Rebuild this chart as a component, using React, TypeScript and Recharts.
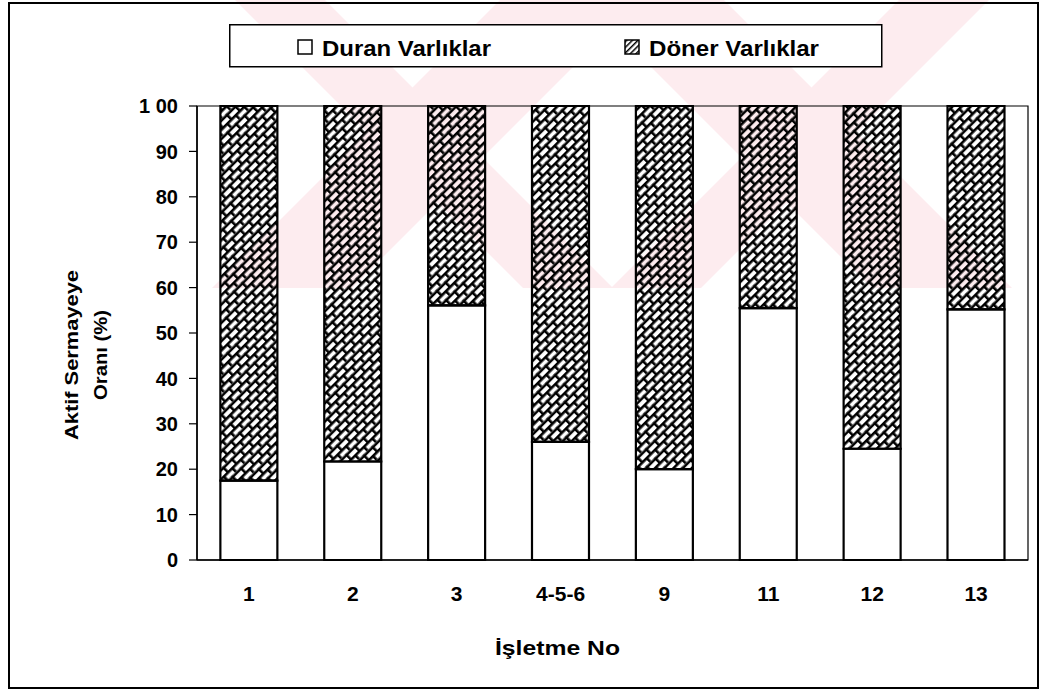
import React from 'react';
import { BarChart, Bar, XAxis, YAxis, Legend, ReferenceArea } from 'recharts';

const categories = ['1', '2', '3', '4-5-6', '9', '11', '12', '13'];
const duranValues = [17.5, 21.7, 56.1, 26.0, 20.0, 55.5, 24.5, 55.2];
const donerValues = [82.5, 78.3, 43.9, 74.0, 80.0, 44.5, 75.5, 44.8];
const yTicks = [0, 10, 20, 30, 40, 50, 60, 70, 80, 90, 100];
const yTickLabels = ['0', '10', '20', '30', '40', '50', '60', '70', '80', '90', '1 00'];
const seriesNames = ['Duran Varlıklar', 'Döner Varlıklar'];
const xTitle = 'İşletme No';
const yTitleLines = ['Aktif Sermayeye', 'Oranı (%)'];

const data = categories.map((c, i) => ({ name: c, duran: duranValues[i], doner: donerValues[i] }));

const FONT = "'Liberation Sans', Arial, sans-serif";

const LegendBox = () => (
  <svg width={654} height={44} style={{ display: 'block' }}>
    <rect x={0.75} y={0.75} width={652} height={42} fill="#fff" stroke="#000" strokeWidth={1.5} />
    <rect x={69} y={16} width={14} height={14} fill="#fff" stroke="#000" strokeWidth={1.5} />
    <text x={93} y={32} fontFamily={FONT} fontWeight="bold" fontSize={22} fill="#000"
      textLength={169} lengthAdjust="spacingAndGlyphs">{seriesNames[0]}</text>
    <rect x={396} y={16} width={14} height={14} fill="url(#brickLegend)" stroke="#000" strokeWidth={1.5} />
    <text x={420} y={32} fontFamily={FONT} fontWeight="bold" fontSize={22} fill="#000"
      textLength={170} lengthAdjust="spacingAndGlyphs">{seriesNames[1]}</text>
  </svg>
);

const XTitle = () => (
  <text x={495} y={655} fontFamily={FONT} fontWeight="bold" fontSize={21} fill="#000"
    textLength={125} lengthAdjust="spacingAndGlyphs">{xTitle}</text>
);

const YTitle = () => (
  <g>
    <text transform="translate(78,355) rotate(-90)" textAnchor="middle" fontFamily={FONT}
      fontWeight="bold" fontSize={18} fill="#000" textLength={170} lengthAdjust="spacingAndGlyphs">
      {yTitleLines[0]}
    </text>
    <text transform="translate(107,355) rotate(-90)" textAnchor="middle" fontFamily={FONT}
      fontWeight="bold" fontSize={18} fill="#000" textLength={90} lengthAdjust="spacingAndGlyphs">
      {yTitleLines[1]}
    </text>
  </g>
);

export default function App() {
  return (
    <div style={{ position: 'absolute', left: 0, top: 0, width: 1045, height: 690, background: '#fff' }}>
      <svg width={1045} height={690} style={{ position: 'absolute', left: 0, top: 0 }}>
        <defs>
          <clipPath id="wmClip">
            <rect x={198} y={0} width={847} height={288} />
          </clipPath>
          <pattern id="brick" patternUnits="userSpaceOnUse" width={12} height={13} patternTransform="rotate(-45)">
            <rect x={0} y={0} width={12} height={2.6} fill="#000" />
            <rect x={0} y={6.5} width={12} height={2.6} fill="#000" />
            <rect x={0} y={0} width={2.6} height={6.5} fill="#000" />
            <rect x={6} y={6.5} width={2.6} height={6.5} fill="#000" />
          </pattern>
          <pattern id="brickLegend" patternUnits="userSpaceOnUse" width={4} height={4} patternTransform="rotate(-45)">
            <rect x={0} y={0} width={4} height={1.5} fill="#000" />
          </pattern>
        </defs>
        <g clipPath="url(#wmClip)" fill="#fdecef">
          <polygon points="235,0 325,0 613,288 523,288" />
          <polygon points="500,0 640,0 352,288 212,288" />
          <polygon points="584,0 724,0 1012,288 872,288" />
          <polygon points="899,0 989,0 701,288 611,288" />
        </g>
      </svg>
      <div style={{ position: 'absolute', left: 8, top: 2, width: 1027, height: 683, border: '2px solid #000' }} />
      <div style={{ position: 'absolute', left: 0, top: 0 }}>
        <BarChart width={1045} height={690} data={data}
          margin={{ top: 106, right: 17, bottom: 100, left: 137 }}
          barCategoryGap="22.5%">
          <XAxis dataKey="name" height={30} tickLine={false} axisLine={{ stroke: '#000', strokeWidth: 1.5 }}
            tickSize={6} tickMargin={20}
            tick={{ fill: '#000', fontSize: 21, fontWeight: 'bold', fontFamily: FONT }}
            label={<XTitle />} />
          <YAxis width={60} domain={[0, 100]} ticks={yTicks} interval={0}
            tickFormatter={(v: number) => yTickLabels[yTicks.indexOf(v)]}
            axisLine={{ stroke: '#000', strokeWidth: 1.5 }} tickLine={{ stroke: '#000', strokeWidth: 1.2 }}
            tickSize={8} tickMargin={11}
            tick={{ fill: '#000', fontSize: 20, fontWeight: 'bold', fontFamily: FONT }}
            label={<YTitle />} />
          <Legend layout="vertical" align="center" verticalAlign="middle"
            wrapperStyle={{ left: 229, top: 24, width: 654, height: 44 }}
            content={<LegendBox />} />
          <Bar dataKey="duran" name={seriesNames[0]} stackId="a" fill="#fff" stroke="#000" strokeWidth={2.2}
            isAnimationActive={false} />
          <Bar dataKey="doner" name={seriesNames[1]} stackId="a" fill="url(#brick)" stroke="#000" strokeWidth={2.2}
            isAnimationActive={false} />
          <ReferenceArea y1={0} y2={100} fill="none" stroke="#000" strokeWidth={1.2} ifOverflow="visible" />
        </BarChart>
      </div>
    </div>
  );
}
